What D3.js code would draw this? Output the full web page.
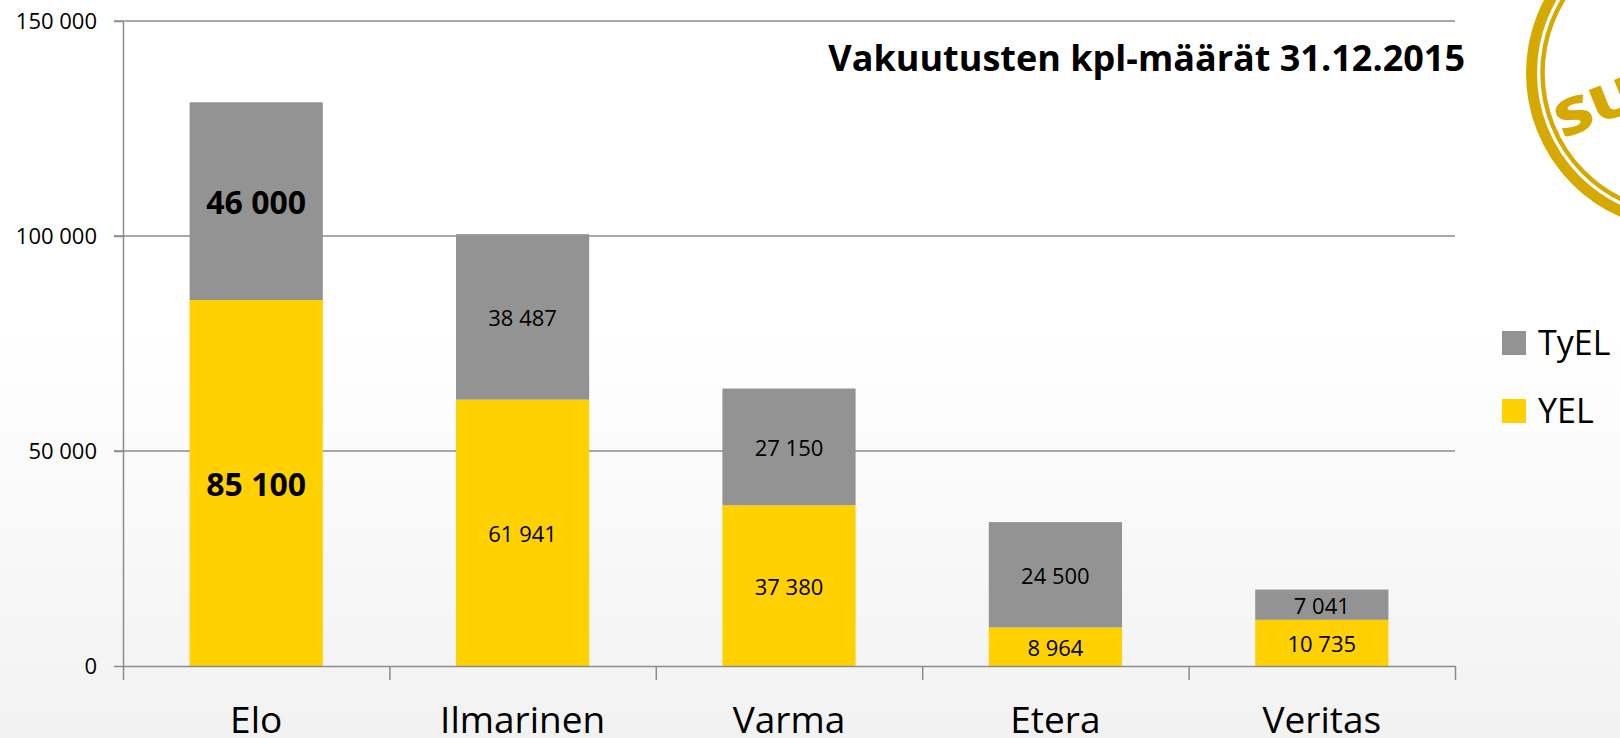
<!DOCTYPE html>
<html>
<head>
<meta charset="utf-8">
<title>Vakuutusten kpl-määrät 31.12.2015</title>
<script src="https://d3js.org/d3.v7.min.js"></script>
<style>
  body { margin: 0; overflow: hidden; }
  svg { display: block; font-family: "Open Sans", sans-serif; }
</style>
</head>
<body>
<div id="chart"></div>
<script>
// data
const companies = ["Elo", "Ilmarinen", "Varma", "Etera", "Veritas"];
const yelValues = [85100, 61941, 37380, 8964, 10735];
const tyelValues = [46000, 38487, 27150, 24500, 7041];
const boldLabels = [true, false, false, false, false];
const yTicks = [0, 50000, 100000, 150000];
const seriesNames = ["TyEL", "YEL"];
const chartTitle = "Vakuutusten kpl-määrät 31.12.2015";

const W = 1620, H = 738;
const margin = { top: 21, right: 165, bottom: 72, left: 123 };
const plotW = W - margin.left - margin.right;
const plotH = H - margin.top - margin.bottom;

const colors = { TyEL: "#939393", YEL: "#ffd100" };
const gridColor = "#8c8c8c";

const fi = d3.formatLocale({ decimal: ",", thousands: " ", grouping: [3], currency: ["", " €"] });
const fmt = fi.format(",d");

const rows = companies.map((c, i) => ({ name: c, YEL: yelValues[i], TyEL: tyelValues[i], bold: boldLabels[i] }));
const stacked = d3.stack().keys(["YEL", "TyEL"])(rows);

const svg = d3.select("#chart").append("svg")
  .attr("width", W).attr("height", H);

// soft background fade
const grad = svg.append("defs").append("linearGradient")
  .attr("id", "bg").attr("x1", 0).attr("y1", 0).attr("x2", 0).attr("y2", 1);
grad.append("stop").attr("offset", "0%").attr("stop-color", "#ffffff");
grad.append("stop").attr("offset", "45%").attr("stop-color", "#ffffff");
grad.append("stop").attr("offset", "100%").attr("stop-color", "#f2f2f2");
svg.append("rect").attr("width", W).attr("height", H).attr("fill", "url(#bg)");

// logo fragment top right
const logo = svg.append("g").attr("fill", "none").attr("stroke", "#d6a900");
logo.append("circle").attr("cx", 1683).attr("cy", 73).attr("r", 151.5).attr("stroke-width", 11);
logo.append("circle").attr("cx", 1683).attr("cy", 73).attr("r", 140.5).attr("stroke-width", 4.5);
svg.append("text")
  .attr("transform", "translate(1563,139) rotate(-22) scale(1.3,1)")
  .attr("fill", "#d6a900")
  .style("font-size", "50px").style("font-weight", 800)
  .text("SU");

const g = svg.append("g").attr("transform", `translate(${margin.left},${margin.top})`);

const x = d3.scaleBand().domain(companies).range([0, plotW]).paddingInner(0.5).paddingOuter(0.25);
const y = d3.scaleLinear().domain([0, 150000]).range([plotH, 0]);

// gridlines
g.append("g").selectAll("line").data(yTicks.filter(d => d > 0)).join("line")
  .attr("x1", -9).attr("x2", plotW)
  .attr("y1", d => y(d)).attr("y2", d => y(d))
  .attr("stroke", gridColor).attr("stroke-width", 1.5);

// y axis
const yAxis = g.append("g")
  .call(d3.axisLeft(y).tickValues(yTicks).tickFormat(fmt).tickSize(9).tickSizeOuter(0).tickPadding(17));
yAxis.select(".domain").attr("stroke", gridColor).attr("stroke-width", 1.5);
yAxis.selectAll(".tick line").attr("stroke", gridColor).attr("stroke-width", 1.5);
yAxis.selectAll(".tick text").style("font-size", "22px").attr("fill", "#000").attr("font-family", "Open Sans");

// stacked bars
g.append("g").selectAll("g").data(stacked).join("g")
  .attr("fill", d => colors[d.key])
  .selectAll("rect").data(d => d).join("rect")
  .attr("x", d => x(d.data.name))
  .attr("width", x.bandwidth())
  .attr("y", d => y(d[1]))
  .attr("height", d => y(d[0]) - y(d[1]));

// value labels
const lbl = g.append("g");
stacked.forEach(s => {
  lbl.selectAll(null).data(s).join("text")
    .attr("x", d => x(d.data.name) + x.bandwidth() / 2)
    .attr("y", d => (y(d[0]) + y(d[1])) / 2)
    .attr("text-anchor", "middle")
    .attr("dominant-baseline", "central")
    .style("font-size", d => d.data.bold ? "32px" : "22px")
    .style("font-weight", d => d.data.bold ? 700 : 400)
    .text(d => fmt(d.data[s.key]));
});

// x axis with ticks between categories
const xEdges = d3.scaleLinear().domain([0, companies.length]).range([0, plotW]);
const xAxis = g.append("g").attr("transform", `translate(0,${plotH})`)
  .call(d3.axisBottom(xEdges).ticks(companies.length).tickFormat("").tickSize(14).tickSizeOuter(0));
xAxis.select(".domain").attr("stroke", gridColor).attr("stroke-width", 1.5);
xAxis.selectAll(".tick line").attr("stroke", gridColor).attr("stroke-width", 1.5);

const xLab = g.append("g").attr("transform", `translate(0,${plotH})`)
  .call(d3.axisBottom(x).tickSize(0).tickPadding(41));
xLab.select(".domain").remove();
xLab.selectAll(".tick text").style("font-size", "37px").attr("fill", "#000").attr("font-family", "Open Sans");

// title
svg.append("text")
  .attr("x", 1465).attr("y", 71)
  .attr("text-anchor", "end")
  .style("font-size", "36px").style("font-weight", 700)
  .text(chartTitle);

// legend
const legend = svg.append("g").attr("transform", "translate(1502,331)");
seriesNames.forEach((n, i) => {
  const row = legend.append("g").attr("transform", `translate(0,${i * 68})`);
  row.append("rect").attr("width", 24).attr("height", 24).attr("fill", colors[n]);
  row.append("text").attr("x", 36).attr("y", 24).style("font-size", "34px").text(n);
});
</script>
</body>
</html>
